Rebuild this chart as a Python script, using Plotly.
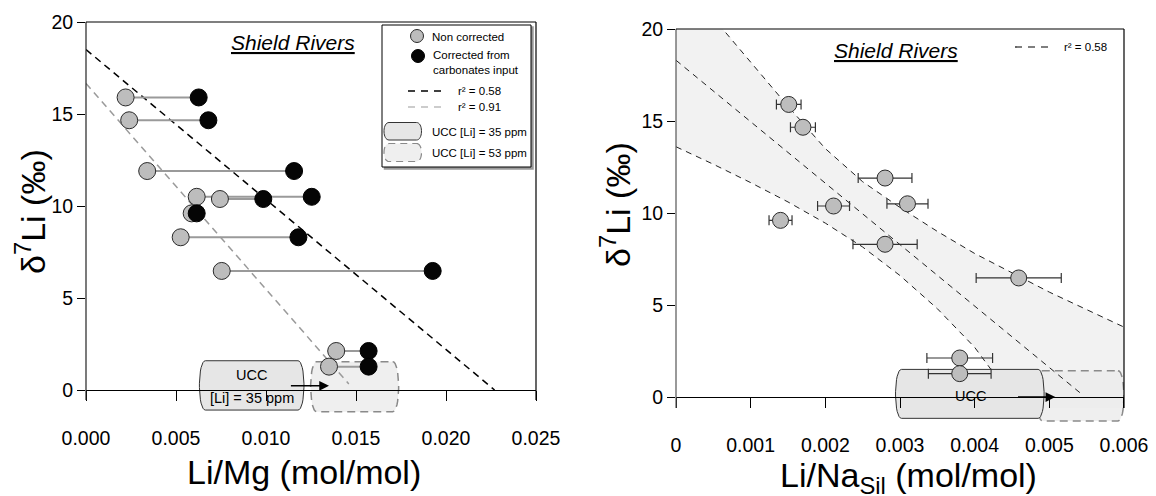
import numpy as np
import plotly.graph_objects as go

W, H = 1156, 496
FONT = "Liberation Sans, Arial, Helvetica, sans-serif"

# ---------------- data ----------------
d7li = [15.9, 14.66, 11.9, 10.5, 10.38, 9.6, 8.3, 6.47, 2.12, 1.27]
limg_noncorrected = [0.0022, 0.0024, 0.0034, 0.00615, 0.00744, 0.00587, 0.00526, 0.00754, 0.0139, 0.0135]
limg_corrected = [0.00626, 0.0068, 0.01156, 0.01254, 0.00985, 0.00615, 0.0118, 0.01926, 0.0157, 0.0157]

lina_sil = [0.00151, 0.0017, 0.0028, 0.0031, 0.00211, 0.0014, 0.0028, 0.00459, 0.0038, 0.0038]
lina_sil_err = [0.000165, 0.000167, 0.00036, 0.000275, 0.000214, 0.000154, 0.00043, 0.00057, 0.00044, 0.00042]

# regression lines (end points)
fit058_limg_x = [0.0, 0.0227]
fit058_limg_y = [18.5, 0.0]
fit091_limg_x = [0.0, 0.0146]
fit091_limg_y = [16.66, 0.33]

fit_lina_x = [0.0, 0.00542]
fit_lina_y = [18.3, 0.2]
band_upper_x = [0.0, 0.00063, 0.001, 0.0015, 0.002, 0.0025, 0.003, 0.0035, 0.004, 0.0045, 0.005, 0.0055, 0.006]
band_upper_y = [23.0, 20.0, 18.2, 15.8, 13.5, 11.7, 10.3, 9.0, 7.8, 6.75, 5.7, 4.75, 3.8]
band_lower_x = [0.0, 0.0005, 0.001, 0.0015, 0.002, 0.0025, 0.003, 0.0035, 0.004, 0.0046]
band_lower_y = [13.6, 12.65, 11.65, 10.6, 9.45, 8.15, 6.6, 4.8, 2.7, -0.6]

# UCC boxes
ucc35_limg_x = [0.0063, 0.01211]
ucc35_limg_y = [-1.09, 1.59]
ucc53_limg_x = [0.01248, 0.01737]
ucc53_limg_y = [-1.18, 1.54]
ucc_arrow_limg_x = [0.0113, 0.0135]
ucc_arrow_limg_y = 0.23

ucc35_lina_x = [0.00294, 0.00493]
ucc35_lina_y = [-1.16, 1.5]
ucc53_lina_x = [0.00483, 0.006]
ucc53_lina_y = [-1.3, 1.43]
ucc_arrow_lina_x = [0.00456, 0.00508]
ucc_arrow_lina_y = 0.0

limg_ticks = [0.0, 0.005, 0.010, 0.015, 0.020, 0.025]
lina_ticks = [0.0, 0.001, 0.002, 0.003, 0.004, 0.005, 0.006]
d7li_ticks = [0, 5, 10, 15, 20]


def px(x):
    return x / W


def py(y):
    return 1 - y / H


def barrel(x0, x1, y0, y1, rx, n=18):
    b = rx / 3.0
    t = np.linspace(0, 1, n)[:, None]

    def bez(p0, p1, p2, p3):
        p0, p1, p2, p3 = map(np.array, (p0, p1, p2, p3))
        return (1 - t) ** 3 * p0 + 3 * (1 - t) ** 2 * t * p1 + 3 * (1 - t) * t ** 2 * p2 + t ** 3 * p3

    right = bez((x1 - rx, y1), (x1 + b, y1), (x1 + b, y0), (x1 - rx, y0))
    left = bez((x0 + rx, y0), (x0 - b, y0), (x0 - b, y1), (x0 + rx, y1))
    pts = np.vstack([right, left, right[:1]])
    return pts[:, 0].tolist(), pts[:, 1].tolist()


def svg_path(xs, ys):
    return "M " + " L ".join(f"{a:.5f},{b:.5f}" for a, b in zip(xs, ys)) + " Z"


fig = go.Figure()

# ---------------- left panel ----------------
rx_l = 6 * 0.005 / 90
bx, by = barrel(ucc53_limg_x[0], ucc53_limg_x[1], ucc53_limg_y[0], ucc53_limg_y[1], rx_l)
fig.add_trace(go.Scatter(x=bx, y=by, mode="lines", fill="toself", fillcolor="#efefef",
                         line=dict(color="#8a8a8a", width=1.5, dash="8px,5px"),
                         hoverinfo="skip", showlegend=False, xaxis="x", yaxis="y"))
bx, by = barrel(ucc35_limg_x[0], ucc35_limg_x[1], ucc35_limg_y[0], ucc35_limg_y[1], rx_l)
fig.add_trace(go.Scatter(x=bx, y=by, mode="lines", fill="toself", fillcolor="#e6e6e6",
                         line=dict(color="#333333", width=1),
                         hoverinfo="skip", showlegend=False, xaxis="x", yaxis="y"))

fig.add_trace(go.Scatter(x=fit058_limg_x, y=fit058_limg_y, mode="lines",
                         line=dict(color="black", width=1.5, dash="7px,5px"),
                         showlegend=False, xaxis="x", yaxis="y"))
fig.add_trace(go.Scatter(x=fit091_limg_x, y=fit091_limg_y, mode="lines",
                         line=dict(color="#9a9a9a", width=1.5, dash="7px,5px"),
                         showlegend=False, xaxis="x", yaxis="y"))

seg_x, seg_y = [], []
for g, c, v in zip(limg_noncorrected, limg_corrected, d7li):
    seg_x += [g, c, None]
    seg_y += [v, v, None]
fig.add_trace(go.Scatter(x=seg_x, y=seg_y, mode="lines", line=dict(color="#9a9a9a", width=2),
                         showlegend=False, xaxis="x", yaxis="y"))

fig.add_trace(go.Scatter(x=limg_noncorrected, y=d7li, mode="markers", name="Non corrected",
                         marker=dict(size=17, color="#bdbdbd", line=dict(color="#2a2a2a", width=1)),
                         showlegend=False, xaxis="x", yaxis="y"))
fig.add_trace(go.Scatter(x=limg_corrected, y=d7li, mode="markers", name="Corrected from carbonates input",
                         marker=dict(size=17, color="#050505", line=dict(color="#000000", width=1)),
                         showlegend=False, xaxis="x", yaxis="y"))

# ---------------- right panel ----------------
band_x = band_upper_x + [0.006, band_lower_x[-1]] + band_lower_x[::-1]
band_y = band_upper_y + [-0.6, -0.6] + band_lower_y[::-1]
fig.add_trace(go.Scatter(x=band_x, y=band_y, mode="lines", fill="toself", fillcolor="#f2f2f2",
                         line=dict(width=0, color="rgba(0,0,0,0)"),
                         hoverinfo="skip", showlegend=False, xaxis="x2", yaxis="y2"))

rx_r = 6 * 0.001 / 74.67
bx, by = barrel(ucc53_lina_x[0], ucc53_lina_x[1], ucc53_lina_y[0], ucc53_lina_y[1], rx_r)
fig.add_trace(go.Scatter(x=bx, y=by, mode="lines", fill="toself", fillcolor="rgba(236,236,236,0.85)",
                         line=dict(color="#8a8a8a", width=1.5, dash="8px,5px"),
                         hoverinfo="skip", showlegend=False, xaxis="x2", yaxis="y2"))

for xs, ys in ((band_upper_x, band_upper_y), (band_lower_x, band_lower_y), (fit_lina_x, fit_lina_y)):
    fig.add_trace(go.Scatter(x=xs, y=ys, mode="lines",
                             line=dict(color="#222222", width=1, dash="6px,5px"),
                             showlegend=False, xaxis="x2", yaxis="y2"))

bx, by = barrel(ucc35_lina_x[0], ucc35_lina_x[1], ucc35_lina_y[0], ucc35_lina_y[1], rx_r)
fig.add_trace(go.Scatter(x=bx, y=by, mode="lines", fill="toself", fillcolor="#e6e6e6",
                         line=dict(color="#333333", width=1),
                         hoverinfo="skip", showlegend=False, xaxis="x2", yaxis="y2"))

fig.add_trace(go.Scatter(x=lina_sil, y=d7li, mode="markers",
                         error_x=dict(type="data", array=lina_sil_err, visible=True,
                                      color="#333333", thickness=1.2, width=5),
                         marker=dict(size=16, color="#bdbdbd", line=dict(color="#2a2a2a", width=1)),
                         showlegend=False, xaxis="x2", yaxis="y2"))

# ---------------- axes ----------------
tickfont = dict(family=FONT, size=19.5, color="black")
L_top, L_bot = 22, 22 + 21.3 * 18.4
R_top, R_bot = 29, 29 + 21.4 * 18.4

fig.update_layout(
    width=W, height=H, margin=dict(l=0, r=0, t=0, b=0, autoexpand=False),
    paper_bgcolor="white", plot_bgcolor="white",
    font=dict(family=FONT, color="black"),
    showlegend=False,
    xaxis=dict(domain=[px(86), px(536)], range=[0, 0.0250001], anchor="free", position=py(390),
               showline=True, linecolor="black", linewidth=1, showgrid=False, zeroline=False,
               ticks="outside", ticklen=10, tickcolor="black", tickvals=limg_ticks,
               tickformat=".3f", tickfont=tickfont, ticklabelstandoff=21, automargin=False),
    yaxis=dict(domain=[py(L_bot), py(L_top)], range=[-1.3, 20], anchor="x",
               showline=False, showgrid=False, zeroline=False,
               ticks="outside", ticklen=8, tickcolor="black", tickvals=d7li_ticks,
               tickfont=tickfont, automargin=False),
    xaxis2=dict(domain=[px(676), px(1124)], range=[0, 0.0060001], anchor="free", position=py(397),
                showline=True, linecolor="black", linewidth=1, showgrid=False, zeroline=False,
                ticks="outside", ticklen=10, tickcolor="black", tickvals=lina_ticks,
                ticktext=["0"] + [f"{v:.3f}" for v in lina_ticks[1:]], tickfont=tickfont,
                ticklabelstandoff=21, automargin=False),
    yaxis2=dict(domain=[py(R_bot), py(R_top)], range=[-1.4, 20], anchor="x2",
                showline=False, showgrid=False, zeroline=False,
                ticks="outside", ticklen=8, tickcolor="black", tickvals=d7li_ticks,
                tickfont=tickfont, automargin=False),
)

shapes = []
# frames
for xr, yr, ybot, lc in (("x domain", "y", -0.55, "#222222"), ("x2 domain", "y2", -0.6, "#555555")):
    shapes.append(dict(type="line", xref=xr, yref=yr, x0=0, x1=0, y0=ybot, y1=20,
                       line=dict(color=lc, width=1.2)))
    shapes.append(dict(type="line", xref=xr, yref=yr, x0=1, x1=1, y0=ybot, y1=20,
                       line=dict(color="black", width=1.2)))
    shapes.append(dict(type="line", xref=xr, yref=yr + " domain", x0=0, x1=1, y0=1, y1=1,
                       line=dict(color="black", width=1.2)))

# left legend box (with shadow)
shapes.append(dict(type="rect", xref="paper", yref="paper", x0=px(384.5), x1=px(533), y0=py(169), y1=py(27),
                   line=dict(color="#9a9a9a", width=1.5), fillcolor="#9a9a9a"))
shapes.append(dict(type="rect", xref="paper", yref="paper", x0=px(382), x1=px(531), y0=py(167), y1=py(25),
                   line=dict(color="black", width=1), fillcolor="white"))
shapes.append(dict(type="circle", xref="paper", yref="paper", x0=px(410.5), x1=px(423.5), y0=py(42.5), y1=py(29.5),
                   line=dict(color="#2a2a2a", width=1), fillcolor="#bdbdbd"))
shapes.append(dict(type="circle", xref="paper", yref="paper", x0=px(411.5), x1=px(424.5), y0=py(62.5), y1=py(49.5),
                   line=dict(color="black", width=1), fillcolor="#050505"))
shapes.append(dict(type="line", xref="paper", yref="paper", x0=px(408), x1=px(444), y0=py(91), y1=py(91),
                   line=dict(color="black", width=1.5, dash="7px,6px")))
shapes.append(dict(type="line", xref="paper", yref="paper", x0=px(408), x1=px(444), y0=py(107), y1=py(107),
                   line=dict(color="#9a9a9a", width=1.2, dash="7px,6px")))
lx, ly = barrel(px(384), px(421.5), py(140), py(122.5), 5 / W)
shapes.append(dict(type="path", xref="paper", yref="paper", path=svg_path(lx, ly),
                   line=dict(color="#333333", width=1), fillcolor="#e6e6e6"))
lx, ly = barrel(px(384), px(421.5), py(161.5), py(143.5), 5 / W)
shapes.append(dict(type="path", xref="paper", yref="paper", path=svg_path(lx, ly),
                   line=dict(color="#8a8a8a", width=1.2, dash="7px,5px"), fillcolor="#efefef"))
# right legend
shapes.append(dict(type="line", xref="paper", yref="paper", x0=px(1015), x1=px(1051), y0=py(47), y1=py(47),
                   line=dict(color="black", width=1.2, dash="7px,6px")))
fig.update_layout(shapes=shapes)

ann = []
leg_font = dict(family=FONT, size=11.5, color="black")
for text, xx, yy in (("Non corrected", 430, 37), ("Corrected from<br>carbonates input", 431, 63),
                     ("r² = 0.58", 456, 91), ("r² = 0.91", 456, 107),
                     ("UCC [Li] = 35 ppm", 430, 132), ("UCC [Li] = 53 ppm", 430, 153),
                     ("r² = 0.58", 1062, 47)):
    ann.append(dict(text=text, x=px(xx), y=py(yy), xref="paper", yref="paper", xanchor="left",
                    yanchor="middle", showarrow=False, align="left", font=leg_font))


def centered(text, x, y, font, angle=0):
    return dict(text=text, x=px(x), y=py(y), xref="paper", yref="paper", xanchor="center",
                yanchor="middle", showarrow=False, font=font, textangle=angle)


title_font = dict(family=FONT, size=21, color="black")
ann.append(centered("<i><u>Shield Rivers</u></i>", 293, 42, title_font))
ann.append(centered("<i><u>Shield Rivers</u></i>", 896, 50, title_font))

axis_font = dict(family=FONT, size=34, color="black")
ann.append(centered("Li/Mg (mol/mol)", 304, 472, axis_font))
ann.append(centered("Li/Na<sub>Sil</sub> (mol/mol)", 908, 477, axis_font))
ann.append(centered("δ<sup>7</sup>Li (‰)", 30, 212, axis_font, -90))
ann.append(centered("δ<sup>7</sup>Li (‰)", 615, 205, axis_font, -90))

ucc_font = dict(family=FONT, size=14.5, color="black")
ucc_cx = (ucc35_limg_x[0] + ucc35_limg_x[1]) / 2
ann.append(dict(text="UCC", x=ucc_cx, y=0.82, xref="x", yref="y", showarrow=False, font=ucc_font))
ann.append(dict(text="[Li] = 35 ppm", x=ucc_cx, y=-0.43, xref="x", yref="y", showarrow=False, font=ucc_font))
ann.append(dict(text="UCC", x=0.00394, y=0.07, xref="x2", yref="y2", showarrow=False, font=ucc_font))

ann.append(dict(text="", x=ucc_arrow_limg_x[1], y=ucc_arrow_limg_y, ax=ucc_arrow_limg_x[0], ay=ucc_arrow_limg_y,
                xref="x", yref="y", axref="x", ayref="y", showarrow=True, arrowhead=2, arrowsize=1.3,
                arrowwidth=1.5, arrowcolor="black"))
ann.append(dict(text="", x=ucc_arrow_lina_x[1], y=ucc_arrow_lina_y, ax=ucc_arrow_lina_x[0], ay=ucc_arrow_lina_y,
                xref="x2", yref="y2", axref="x2", ayref="y2", showarrow=True, arrowhead=2, arrowsize=1.3,
                arrowwidth=1.5, arrowcolor="black"))
fig.update_layout(annotations=ann)

fig.write_html("out.html", config={"displayModeBar": False},
               post_script="document.body.style.margin='0px';document.body.style.overflow='hidden';")
